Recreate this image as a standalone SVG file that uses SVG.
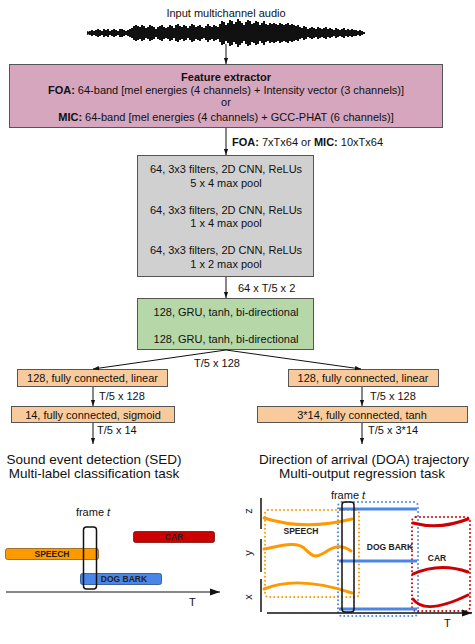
<svg xmlns="http://www.w3.org/2000/svg" width="475" height="644" viewBox="0 0 475 644">
<style>
text{font-family:"Liberation Sans",Arial,sans-serif;font-size:11px;fill:#111}
.c{text-anchor:middle}
.b{font-weight:bold}
.big{font-size:13.5px}
.box{stroke:#555;stroke-width:1}
.conn{stroke:#111;stroke-width:1;fill:none;marker-end:url(#ah)}
.lbl{font-size:8.5px;font-weight:bold;fill:#222;text-anchor:middle}
.dot{fill:none;stroke-width:2;stroke-linecap:round;stroke-dasharray:0 4}
.cur{fill:none;stroke-width:3;stroke-linecap:round}
</style>
<defs>
<marker id="ah" viewBox="0 0 10 10" refX="10" refY="5" markerWidth="6" markerHeight="6" orient="auto" markerUnits="userSpaceOnUse"><path d="M0,1.5 L10,5 L0,8.5 z" fill="#111"/></marker>
<marker id="ax" viewBox="0 0 10 10" refX="10" refY="5" markerWidth="12" markerHeight="10" orient="auto" markerUnits="userSpaceOnUse"><path d="M0,1.5 L10,5 L0,8.5 z" fill="#111"/></marker>
</defs>

<g id="input">
<text class="c" x="226" y="17">Input multichannel audio</text>
<polygon points="87,31 92,33 87,35" fill="#111"/>
<path stroke="#111" stroke-width="2" d="M88 32V34M90 31V35M92 30V36M94 31V35M96 30V36M98 29V37M100 30V36M102 31V35M104 29V37M106 30V36M108 29V37M110 31V35M112 30V36M114 29V37M116 30V36M118 31V35M120 29V37M122 29V37M124 30V36M126 31V35M128 30V36M130 29V37M132 28V38M134 26V40M136 25V41M138 26V40M140 27V39M142 25V41M144 26V40M146 28V38M148 27V39M150 25V41M152 26V40M154 27V39M156 29V37M158 27V39M160 26V40M162 25V41M164 27V39M166 28V38M168 27V39M170 25V41M172 26V40M174 28V38M176 25V41M178 24V42M180 26V40M182 27V39M184 25V41M186 26V40M188 28V38M190 26V40M192 24V42M194 25V41M196 27V39M198 26V40M200 25V41M202 27V39M204 28V38M206 26V40M208 24V42M210 26V40M212 27V39M214 25V41M216 26V40M218 27V39M220 24V42M222 21V45M224 22V44M226 25V41M228 23V43M230 20V46M232 21V45M234 24V42M236 22V44M238 19V47M240 21V45M242 23V43M244 25V41M246 22V44M248 20V46M250 21V45M252 24V42M254 23V43M256 21V45M258 22V44M260 25V41M262 23V43M264 21V45M266 24V42M268 25V41M270 23V43M272 24V42M274 23V43M276 24V42M278 25V41M280 23V43M282 24V42M284 25V41M286 24V42M288 23V43M290 25V41M292 24V42M294 25V41M296 26V40M298 25V41M300 27V39M302 28V38M304 26V40M306 27V39M308 29V37M310 28V38M312 27V39M314 28V38M316 29V37M318 27V39M320 28V38M322 29V37M324 28V38M326 27V39M328 29V37M330 28V38M332 29V37M334 30V36M336 28V38M338 29V37M340 30V36M342 29V37M344 28V38M346 30V36M348 29V37M350 30V36M352 29V37M354 30V36M356 30V36M358 31V35M360 30V36M362 31V35M364 32V34"/>
</g>

<g id="feature-extractor">
<rect class="box" x="9.5" y="64.5" width="433" height="63" fill="#d5a6bd"/>
<text class="c b" x="226" y="81">Feature extractor</text>
<text class="c" x="226" y="94"><tspan class="b">FOA:</tspan> 64-band [mel energies (4 channels) + Intensity vector (3 channels)]</text>
<text class="c" x="226" y="106">or</text>
<text class="c" x="226" y="121"><tspan class="b">MIC:</tspan> 64-band [mel energies (4 channels) + GCC-PHAT (6 channels)]</text>
</g>

<g id="cnn">
<rect class="box" x="137.5" y="155.5" width="176" height="121" fill="#d0d0d0"/>
<text class="c" x="226" y="173">64, 3x3 filters, 2D CNN, ReLUs</text>
<text class="c" x="226" y="187">5 x 4 max pool</text>
<text class="c" x="226" y="214">64, 3x3 filters, 2D CNN, ReLUs</text>
<text class="c" x="226" y="227">1 x 4 max pool</text>
<text class="c" x="226" y="254">64, 3x3 filters, 2D CNN, ReLUs</text>
<text class="c" x="226" y="268">1 x 2 max pool</text>
</g>

<g id="gru">
<rect class="box" x="137.5" y="298.5" width="176" height="51" fill="#b6d7a8"/>
<text class="c" x="226" y="316">128, GRU, tanh, bi-directional</text>
<text class="c" x="226" y="343">128, GRU, tanh, bi-directional</text>
</g>

<g id="sed-fc1">
<rect class="box" x="17.5" y="369.5" width="150" height="17" fill="#f9cb9c"/>
<text class="c" x="92.5" y="382">128, fully connected, linear</text>
</g>
<g id="sed-fc2">
<rect class="box" x="11.5" y="406.5" width="163" height="16" fill="#f9cb9c"/>
<text class="c" x="93" y="419">14, fully connected, sigmoid</text>
</g>
<g id="doa-fc1">
<rect class="box" x="288.5" y="369.5" width="150" height="17" fill="#f9cb9c"/>
<text class="c" x="363" y="382">128, fully connected, linear</text>
</g>
<g id="doa-fc2">
<rect class="box" x="257.5" y="406.5" width="210" height="16" fill="#f9cb9c"/>
<text class="c" x="362" y="419">3*14, fully connected, tanh</text>
</g>

<g id="connectors">
<line class="conn" x1="226" y1="44" x2="226" y2="64"/>
<line class="conn" x1="226" y1="128" x2="226" y2="155"/>
<line class="conn" x1="226" y1="277" x2="226" y2="298"/>
<line class="conn" x1="226" y1="350" x2="93" y2="369"/>
<line class="conn" x1="226" y1="350" x2="361" y2="369"/>
<line class="conn" x1="93" y1="387" x2="93" y2="406"/>
<line class="conn" x1="93" y1="423" x2="93" y2="444"/>
<line class="conn" x1="362" y1="387" x2="362" y2="406"/>
<line class="conn" x1="362" y1="423" x2="362" y2="444"/>
<text x="232" y="146"><tspan class="b">FOA:</tspan> 7xTx64 or <tspan class="b">MIC:</tspan> 10xTx64</text>
<text x="238" y="292">64 x T/5 x 2</text>
<text class="c" x="217" y="367">T/5 x 128</text>
<text x="99" y="400">T/5 x 128</text>
<text x="97" y="434">T/5 x 14</text>
<text x="370" y="400">T/5 x 128</text>
<text x="368" y="434">T/5 x 3*14</text>
</g>

<g id="sed-output">
<text class="c big" x="94" y="464">Sound event detection (SED)</text>
<text class="c big" x="94" y="478">Multi-label classification task</text>
</g>
<g id="doa-output">
<text class="c big" x="364" y="464">Direction of arrival (DOA) trajectory</text>
<text class="c big" x="362" y="478">Multi-output regression task</text>
</g>

<g id="sed-plot">
<text class="c" x="93" y="516">frame <tspan font-style="italic">t</tspan></text>
<rect x="133.5" y="531.5" width="81" height="11" rx="2" fill="#cc0000" stroke="#7a1010" stroke-width="0.8"/>
<text class="lbl" x="174" y="540">CAR</text>
<rect x="5.5" y="548.5" width="93" height="11" rx="2" fill="#ff9900" stroke="#8a5a10" stroke-width="0.8"/>
<text class="lbl" x="52" y="557">SPEECH</text>
<rect x="80.5" y="573.5" width="81" height="11" rx="2" fill="#4a86e8" stroke="#2a4a80" stroke-width="0.8"/>
<text class="lbl" x="124" y="582">DOG BARK</text>
<rect x="83.5" y="527" width="13" height="62" rx="3" fill="none" stroke="#111" stroke-width="1.5"/>
<line x1="6" y1="592" x2="220" y2="592" stroke="#111" stroke-width="1.2" marker-end="url(#ax)"/>
<text x="189" y="606">T</text>
</g>

<g id="doa-plot">
<text class="c" x="348" y="499">frame <tspan font-style="italic">t</tspan></text>
<rect class="dot" x="265" y="510" width="94" height="87" rx="3" stroke="#ff9900"/>
<rect class="dot" x="338" y="502" width="80" height="114" rx="4" stroke="#4a86e8"/>
<rect class="dot" x="412" y="517" width="58" height="94" rx="4" stroke="#cc0000"/>
<path class="cur" stroke="#ff9900" d="M264 518 Q305 531 352 519"/>
<path class="cur" stroke="#ff9900" d="M264 549 C280 546 296 541 304 548 C311 555 314 559 324 553 C334 546 342 544 351 551"/>
<path class="cur" stroke="#ff9900" d="M264 589 Q298 575 352 593"/>
<path class="cur" stroke="#cc0000" d="M413 523 Q440 530 468 519"/>
<path class="cur" stroke="#cc0000" d="M413 574 Q440 562 468 572"/>
<path class="cur" stroke="#cc0000" d="M413 599 Q425 616 468 595"/>
<g stroke="#4a86e8" stroke-width="3">
<line x1="339" y1="509" x2="417" y2="509"/>
<line x1="339" y1="561" x2="417" y2="561"/>
<line x1="339" y1="609" x2="417" y2="609"/>
</g>
<text class="lbl" x="301" y="534">SPEECH</text>
<text class="lbl" x="390" y="550">DOG BARK</text>
<text class="lbl" x="437" y="561">CAR</text>
<rect x="342" y="502" width="12" height="110" rx="3" fill="none" stroke="#111" stroke-width="1.5"/>
<g stroke="#111" stroke-width="1.5">
<line x1="261" y1="498" x2="261" y2="529"/>
<line x1="261" y1="539" x2="261" y2="572"/>
<line x1="261" y1="579" x2="261" y2="612"/>
</g>
<line x1="267" y1="613" x2="472" y2="613" stroke="#111" stroke-width="1.5" marker-end="url(#ax)"/>
<text class="c" font-size="14" transform="translate(252 511) rotate(-90)">z</text>
<text class="c" font-size="14" transform="translate(252 553) rotate(-90)">y</text>
<text class="c" font-size="14" transform="translate(252 597) rotate(-90)">x</text>
<text x="444" y="627">T</text>
</g>
</svg>
